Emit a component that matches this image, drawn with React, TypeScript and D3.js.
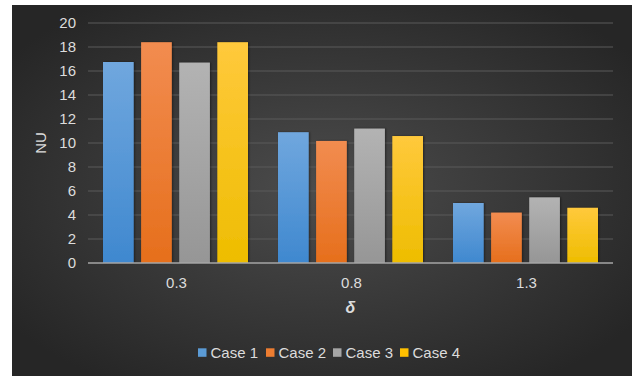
import React from "react";
import * as d3 from "d3";

const categories = ["0.3", "0.8", "1.3"];
const seriesNames = ["Case 1", "Case 2", "Case 3", "Case 4"];
const case1 = [16.75, 10.9, 5.0];
const case2 = [18.4, 10.17, 4.2];
const case3 = [16.7, 11.2, 5.47];
const case4 = [18.4, 10.58, 4.6];
const yTicks = [0, 2, 4, 6, 8, 10, 12, 14, 16, 18, 20];

const seriesValues = [case1, case2, case3, case4];
const topColors = ["#70a7de", "#f28c50", "#b3b3b3", "#ffc93c"];
const bottomColors = ["#3f88cf", "#e66f1c", "#969696", "#eebd00"];
const legendColors = ["#5b9bd5", "#ed7d31", "#a5a5a5", "#ffc000"];

const W = 633;
const H = 379;
const plot = { left: 88, right: 613, top: 23, bottom: 263 };
const font = "'Liberation Sans', Arial, Helvetica, sans-serif";
const textColor = "#dcdcdc";

export default function App() {
  const x0 = d3
    .scaleBand<string>()
    .domain(categories)
    .range([plot.left, plot.right])
    .paddingInner(0)
    .paddingOuter(0);
  const x1 = d3
    .scaleBand<string>()
    .domain(seriesNames)
    .range([15, x0.bandwidth() - 15])
    .paddingInner(0.195)
    .paddingOuter(0);
  const y = d3.scaleLinear().domain([0, 20]).range([plot.bottom, plot.top]);

  const legendX = [198, 266, 333, 400];

  return (
    <svg
      width={W}
      height={H}
      style={{ position: "absolute", left: 0, top: 0 }}
      fontFamily={font}
    >
      <defs>
        <radialGradient id="bg" cx="0.5" cy="0.5" r="0.62">
          <stop offset="0" stopColor="#4c4c4c" />
          <stop offset="1" stopColor="#262626" />
        </radialGradient>
        {seriesNames.map((s, i) => (
          <linearGradient key={s} id={`g${i}`} x1="0" y1="0" x2="0" y2="1">
            <stop offset="0" stopColor={topColors[i]} />
            <stop offset="1" stopColor={bottomColors[i]} />
          </linearGradient>
        ))}
        <filter id="sh" x="-20%" y="-10%" width="140%" height="120%">
          <feDropShadow dx="1" dy="0" stdDeviation="1.2" floodColor="#000" floodOpacity="0.45" />
        </filter>
      </defs>
      <rect x={0} y={0} width={W} height={H} fill="#ffffff" />
      <rect x={12} y={5} width={620} height={371} fill="url(#bg)" />

      {yTicks.map((t) => (
        <g key={t}>
          {t > 0 && (
            <line
              x1={plot.left}
              x2={plot.right}
              y1={y(t)}
              y2={y(t)}
              stroke="#5a5a5a"
              strokeWidth={1}
            />
          )}
          <text
            x={76}
            y={y(t)}
            dy="0.36em"
            textAnchor="end"
            fontSize={15}
            fill={textColor}
          >
            {t}
          </text>
        </g>
      ))}

      {categories.map((c, ci) => (
        <g key={c} transform={`translate(${x0(c)},0)`}>
          {seriesNames.map((s, si) => {
            const v = seriesValues[si][ci];
            return (
              <rect
                key={s}
                x={x1(s)}
                y={y(v)}
                width={x1.bandwidth()}
                height={y(0) - y(v)}
                fill={`url(#g${si})`}
                filter="url(#sh)"
              />
            );
          })}
          <text
            x={x0.bandwidth() / 2 + 1}
            y={283}
            dy="0.36em"
            textAnchor="middle"
            fontSize={15}
            fill={textColor}
          >
            {c}
          </text>
        </g>
      ))}

      <line
        x1={plot.left}
        x2={plot.right}
        y1={y(0)}
        y2={y(0)}
        stroke="#a6a6a6"
        strokeWidth={1.5}
      />

      <text
        transform={`translate(41,${(plot.top + plot.bottom) / 2}) rotate(-90)`}
        textAnchor="middle"
        dy="0.36em"
        fontSize={15}
        fill={textColor}
      >
        NU
      </text>
      <text
        x={(plot.left + plot.right) / 2}
        y={307}
        dy="0.36em"
        textAnchor="middle"
        fontSize={16}
        fontStyle="italic"
        fontWeight="bold"
        fill={textColor}
      >
        δ
      </text>

      {seriesNames.map((s, i) => (
        <g key={s} transform={`translate(${legendX[i]},352.5)`}>
          <rect x={0} y={-4.2} width={8.5} height={8.5} fill={legendColors[i]} />
          <text x={12.5} y={0} dy="0.36em" fontSize={15} fill={textColor}>
            {s}
          </text>
        </g>
      ))}
    </svg>
  );
}
